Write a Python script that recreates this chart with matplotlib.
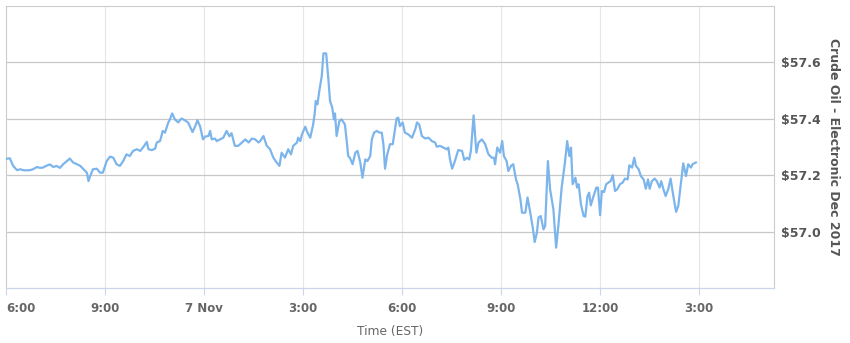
import numpy as np
import pandas as pd
import matplotlib
matplotlib.use("Agg")
import matplotlib.pyplot as plt
import matplotlib.dates as mdates
from matplotlib.ticker import FixedLocator, FuncFormatter

# minutes after 6:00 PM EST on 6 Nov 2017
minutes = [
    0, 7, 13, 20, 26, 31, 38, 44, 49, 56, 62, 67, 74, 80, 86, 92, 98, 104,
    110, 116, 122, 129, 135, 140, 147, 150, 153, 158, 165, 171, 176, 183,
    189, 195, 201, 207, 213, 219, 225, 231, 238, 244, 250, 256, 259, 265,
    271, 274, 280, 285, 289, 295, 298, 302, 307, 313, 319, 325, 331, 339,
    344, 348, 353, 358, 362, 368, 371, 374, 380, 383, 389, 395, 401, 406,
    410, 416, 422, 429, 435, 441, 447, 453, 459, 462, 468, 474, 480, 486,
    492, 497, 501, 507, 513, 518, 522, 529, 531, 535, 538, 544, 548, 553,
    558, 561, 563, 566, 570, 574, 577, 582, 586, 589, 593, 596, 598, 601,
    606, 610, 616, 619, 622, 625, 630, 635, 639, 644, 648, 653, 657, 662,
    665, 669, 674, 679, 683, 686, 689, 693, 698, 703, 707, 710, 713, 716,
    721, 725, 731, 738, 744, 747, 751, 756, 762, 768, 774, 780, 783, 789,
    795, 801, 804, 807, 811, 816, 822, 829, 833, 838, 842, 845, 850, 855,
    859, 865, 871, 877, 883, 887, 889, 893, 898, 902, 905, 910, 913, 918,
    922, 927, 930, 935, 938, 944, 948, 953, 958, 961, 965, 968, 972, 977,
    980, 985, 989, 995, 1000, 1004, 1010, 1016, 1020, 1024, 1027, 1030,
    1035, 1038, 1041, 1045, 1050, 1053, 1057, 1060, 1063, 1068, 1073, 1076,
    1080, 1083, 1087, 1091, 1095, 1099, 1103, 1107, 1111, 1116, 1121, 1125,
    1130, 1133, 1138, 1142, 1145, 1150, 1154, 1159, 1163, 1167, 1170, 1174,
    1179, 1183, 1188, 1191, 1195, 1199, 1204, 1208, 1213, 1218, 1222, 1227,
    1231, 1236, 1240, 1245, 1248, 1254,
]

price = [
    57.258, 57.260, 57.233, 57.218, 57.221, 57.218, 57.217, 57.218, 57.221,
    57.229, 57.226, 57.227, 57.234, 57.238, 57.229, 57.233, 57.226, 57.239,
    57.249, 57.259, 57.245, 57.239, 57.233, 57.223, 57.209, 57.179, 57.197,
    57.221, 57.223, 57.209, 57.209, 57.250, 57.266, 57.262, 57.239, 57.233,
    57.250, 57.274, 57.268, 57.286, 57.292, 57.286, 57.301, 57.318, 57.292,
    57.289, 57.294, 57.316, 57.321, 57.357, 57.351, 57.387, 57.398, 57.419,
    57.398, 57.387, 57.401, 57.395, 57.387, 57.353, 57.374, 57.395, 57.372,
    57.327, 57.337, 57.339, 57.357, 57.327, 57.330, 57.321, 57.327, 57.333,
    57.357, 57.338, 57.349, 57.304, 57.304, 57.316, 57.327, 57.316, 57.330,
    57.327, 57.316, 57.321, 57.339, 57.304, 57.292, 57.262, 57.245, 57.233,
    57.280, 57.262, 57.292, 57.274, 57.304, 57.316, 57.333, 57.321, 57.345,
    57.372, 57.351, 57.333, 57.377, 57.416, 57.463, 57.451, 57.505, 57.552,
    57.632, 57.632, 57.540, 57.463, 57.440, 57.398, 57.419, 57.339, 57.392,
    57.398, 57.380, 57.327, 57.268, 57.262, 57.239, 57.280, 57.286, 57.245,
    57.191, 57.256, 57.250, 57.268, 57.327, 57.351, 57.357, 57.351, 57.351,
    57.310, 57.223, 57.274, 57.310, 57.310, 57.363, 57.401, 57.404, 57.374,
    57.387, 57.351, 57.345, 57.333, 57.363, 57.387, 57.380, 57.339, 57.330,
    57.333, 57.321, 57.316, 57.301, 57.304, 57.298, 57.292, 57.298, 57.256,
    57.223, 57.250, 57.289, 57.286, 57.254, 57.262, 57.256, 57.286, 57.412,
    57.280, 57.316, 57.327, 57.310, 57.274, 57.262, 57.262, 57.239, 57.298,
    57.280, 57.321, 57.268, 57.250, 57.215, 57.233, 57.239, 57.185, 57.168,
    57.115, 57.067, 57.067, 57.121, 57.067, 57.008, 56.963, 56.996, 57.050,
    57.055, 57.008, 57.020, 57.250, 57.150, 57.079, 56.943, 57.020, 57.156,
    57.245, 57.321, 57.268, 57.298, 57.168, 57.191, 57.156, 57.168, 57.097,
    57.055, 57.053, 57.126, 57.138, 57.093, 57.126, 57.156, 57.156, 57.058,
    57.144, 57.140, 57.168, 57.174, 57.179, 57.200, 57.144, 57.150, 57.168,
    57.174, 57.188, 57.185, 57.235, 57.227, 57.262, 57.233, 57.221, 57.197,
    57.185, 57.152, 57.185, 57.152, 57.179, 57.188, 57.179, 57.156, 57.179,
    57.150, 57.126, 57.152, 57.188, 57.126, 57.070, 57.091, 57.174, 57.242,
    57.197, 57.239, 57.227, 57.239, 57.245,
]

tick_times = [
    "2017-11-06 18:00", "2017-11-06 21:00", "2017-11-07 00:00",
    "2017-11-07 03:00", "2017-11-07 06:00", "2017-11-07 09:00",
    "2017-11-07 12:00", "2017-11-07 15:00",
]
tick_labels = ["6:00", "9:00", "7 Nov", "3:00", "6:00", "9:00", "12:00", "3:00"]
y_ticks = [57.0, 57.2, 57.4, 57.6]

start = pd.Timestamp("2017-11-06 18:00")
times = start + pd.to_timedelta(minutes, unit="min")

fig = plt.figure(figsize=(8.5, 3.43), dpi=100)
ax = fig.add_axes([6 / 850, 1 - 288 / 343, 768 / 850, 282 / 343])

ax.plot(times, price, color="#7cb5ec", lw=1.6, solid_joinstyle="round", zorder=3)

ax.set_xlim(start, pd.Timestamp("2017-11-07 17:16"))
ax.set_ylim(56.80, 57.80)

ticks = mdates.date2num(pd.to_datetime(tick_times))
ax.xaxis.set_major_locator(FixedLocator(ticks))
ax.set_xticklabels(tick_labels)
ax.grid(axis="x", color="#e6e6e6", lw=0.8, zorder=0)
ax.tick_params(axis="x", length=5, width=0.8, color="#ccd6eb", pad=5,
               labelsize=8.5, labelcolor="#666666")
for lbl in ax.get_xticklabels():
    lbl.set_fontweight("bold")
# first label sits flush with the plot edge, like the original
ax.get_xticklabels()[0].set_horizontalalignment("left")

ax.yaxis.tick_right()
ax.set_yticks(y_ticks)
ax.yaxis.set_major_formatter(FuncFormatter(lambda v, p: f"${v:.1f}"))
ax.grid(axis="y", color="#c8c8c8", lw=0.9, zorder=0)
ax.tick_params(axis="y", length=0, pad=5, labelsize=9, labelcolor="#555555")
for lbl in ax.get_yticklabels():
    lbl.set_fontweight("bold")

for side in ["top", "left", "right"]:
    ax.spines[side].set_color("#cccccc")
    ax.spines[side].set_linewidth(0.8)
ax.spines["bottom"].set_color("#ccd6eb")
ax.spines["bottom"].set_linewidth(0.9)

ax.set_xlabel("Time (EST)", fontsize=8.8, color="#666666", labelpad=7)
ax.yaxis.set_label_position("right")
ax.set_ylabel("Crude Oil - Electronic Dec 2017", fontsize=9, fontweight="bold",
              color="#555555", rotation=270, labelpad=14)

fig.savefig("out.png", dpi=100)
